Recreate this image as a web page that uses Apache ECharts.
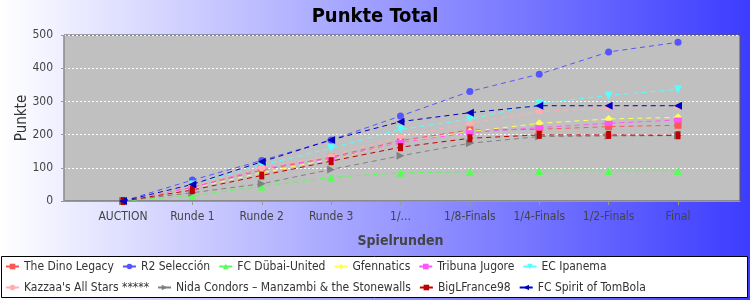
<!DOCTYPE html>
<html>
<head>
<meta charset="utf-8">
<script src="https://cdn.jsdelivr.net/npm/echarts@6/dist/echarts.min.js"></script>
<style>
  html, body { margin: 0; padding: 0; }
  #main { width: 750px; height: 300px; }
</style>
</head>
<body>
<div id="main"></div>
<script>
// Spielrunden
var rounds = ['AUCTION', 'Runde 1', 'Runde 2', 'Runde 3', '1/...', '1/8-Finals', '1/4-Finals', '1/2-Finals', 'Final'];

// Punkte je Team
var dinoLegacy   = [0, 42, 93, 132, 182, 214, 216, 224, 228];
var r2Seleccion  = [0, 63, 122, 184, 256, 330, 382, 449, 478];
var fcDubai      = [0, 16, 44, 71, 85, 88, 90, 90, 90];
var gfennatics   = [0, 38, 85, 126, 176, 209, 234, 247, 252];
var tribuna      = [0, 40, 100, 128, 176, 206, 221, 234, 244];
var ipanema      = [0, 50, 108, 159, 216, 246, 294, 318, 336];
var kazzaa       = [0, 45, 100, 136, 194, 234, 269, 280, 282];
var nidaCondors  = [0, 25, 52, 95, 136, 174, 194, 196, 197];
var bigLFrance   = [0, 33, 77, 120, 162, 189, 199, 199, 198];
var fcSpirit     = [0, 50, 118, 184, 239, 266, 287, 287, 287];

var yTicks = [0, 100, 200, 300, 400, 500];

var font = 'DejaVu Sans Condensed';

var teams = [
  { name: 'The Dino Legacy', data: dinoLegacy, color: '#ff5555', symbol: 'rect', size: 7, rot: 0 },
  { name: 'R2 Selección', data: r2Seleccion, color: '#5555ff', symbol: 'circle', size: 7, rot: 0 },
  { name: 'FC Dübai-United', data: fcDubai, color: '#55ff55', symbol: 'triangle', size: 8, rot: 0 },
  { name: 'Gfennatics', data: gfennatics, color: '#ffff55', symbol: 'diamond', size: 8, rot: 0 },
  { name: 'Tribuna Jugore', data: tribuna, color: '#ff55ff', symbol: 'rect', size: [8, 5], rot: 0 },
  { name: 'EC Ipanema', data: ipanema, color: '#55ffff', symbol: 'triangle', size: 8, rot: 180 },
  { name: "Kazzaa's All Stars *****", data: kazzaa, color: '#ffafaf', symbol: 'circle', size: [8, 5], rot: 0 },
  { name: 'Nida Condors – Manzambi & the Stonewalls', data: nidaCondors, color: '#808080', symbol: 'triangle', size: 8, rot: -90 },
  { name: 'BigLFrance98', data: bigLFrance, color: '#c00000', symbol: 'rect', size: [5, 8], rot: 0 },
  { name: 'FC Spirit of TomBola', data: fcSpirit, color: '#0000c0', symbol: 'triangle', size: 8, rot: 90 }
];

var series = teams.map(function (t) {
  return {
    name: t.name,
    type: 'line',
    xAxisIndex: 1,
    yAxisIndex: 1,
    data: t.data,
    symbol: t.symbol,
    symbolSize: t.size,
    symbolRotate: t.rot,
    showAllSymbol: true,
    itemStyle: { color: t.color },
    lineStyle: { color: t.color, width: 1, type: [5, 4] }
  };
});

var myChart = echarts.init(document.getElementById('main'), null, { renderer: 'canvas' });
var option = {
  animation: false,
  backgroundColor: {
    type: 'linear', x: 0, y: 0, x2: 1, y2: 0,
    colorStops: [{ offset: 0, color: '#ffffff' }, { offset: 1, color: '#3c3cff' }]
  },
  title: {
    text: 'Punkte Total',
    left: 'center',
    top: 2,
    textStyle: { fontFamily: font, fontSize: 20, fontWeight: 'bold', color: '#000' }
  },
  graphic: [{
    type: 'rect',
    shape: { x: 1.5, y: 256.5, width: 746, height: 41 },
    style: { fill: '#fff', stroke: '#000', lineWidth: 1 },
    z: -1
  }],
  legend: {
    left: 5,
    top: 260,
    width: 700,
    padding: 0,
    itemGap: 8,
    itemWidth: 13,
    itemHeight: 7,
    lineStyle: { type: 'solid', width: 2 },
    textStyle: { fontFamily: font, fontSize: 12, color: '#333', lineHeight: 13 },
    data: teams.map(function (t) { return t.name; })
  },
  grid: [
    { left: 64, top: 35, width: 676, height: 166, show: true, backgroundColor: '#c0c0c0', borderColor: '#555', borderWidth: 1 },
    { left: 123, top: 35, width: 555, height: 166 }
  ],
  xAxis: [
    {
      gridIndex: 0, type: 'value', min: 0, max: 1, offset: 4,
      axisLine: { show: true, lineStyle: { color: '#999' } },
      axisTick: { show: false }, axisLabel: { show: false }, splitLine: { show: false }
    },
    {
      gridIndex: 1, type: 'category', data: rounds, boundaryGap: false, offset: 4,
      axisLine: { show: false },
      axisTick: { show: true, length: 4, lineStyle: { color: '#999' } },
      axisLabel: { margin: 6, fontFamily: font, fontSize: 12, color: '#444', interval: 0 },
      splitLine: { show: false },
      name: 'Spielrunden', nameLocation: 'middle', nameGap: 29, nameMoveOverlap: false,
      nameTextStyle: { fontFamily: font, fontSize: 14, fontWeight: 'bold', color: '#444' }
    }
  ],
  yAxis: [
    {
      gridIndex: 0, type: 'value', min: yTicks[0], max: yTicks[yTicks.length - 1], interval: 100, offset: 4,
      axisLine: { show: true, lineStyle: { color: '#999' } },
      axisTick: { show: true, length: 3, lineStyle: { color: '#999' } },
      axisLabel: { margin: 7, fontFamily: font, fontSize: 12, color: '#444' },
      splitLine: { show: true, lineStyle: { color: '#ffffff', type: [2, 2], width: 1 } },
      name: 'Punkte', nameLocation: 'middle', nameGap: 30, nameRotate: 90, nameMoveOverlap: false,
      nameTextStyle: { fontFamily: font, fontSize: 15, color: '#333' }
    },
    {
      gridIndex: 1, type: 'value', min: yTicks[0], max: yTicks[yTicks.length - 1], interval: 100,
      show: false
    }
  ],
  series: series
};
myChart.setOption(option);
</script>
</body>
</html>
